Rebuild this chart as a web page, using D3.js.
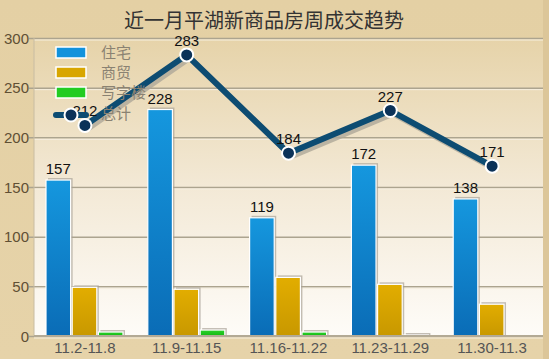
<!DOCTYPE html>
<html><head><meta charset="utf-8">
<script src="https://cdn.jsdelivr.net/npm/d3@7"></script>
<style>html,body{margin:0;padding:0;overflow:hidden;background:#e3cfa3}</style>
</head><body>
<svg id="c" width="549" height="359"></svg>
<script>
const categories = ["11.2-11.8","11.9-11.15","11.16-11.22","11.23-11.29","11.30-11.3"];
const seriesNames = ["住宅","商贸","写字楼"];
const residential = [157,228,119,172,138];
const commercial = [49,47,59,52,32];
const office = [4,6,4,1,0];
const total = [212,283,184,227,171];
const lineName = "总计";
const yTicks = [0,50,100,150,200,250,300];
const title = "近一月平湖新商品房周成交趋势";

const svg = d3.select("#c");
const W = 549, H = 359;
const m = {l:34, r:6, t:38, b:23};
const defs = svg.append("defs");
function grad(id, stops){
  const g = defs.append("linearGradient").attr("id",id).attr("x1",0).attr("y1",0).attr("x2",0).attr("y2",1);
  stops.forEach(s=>g.append("stop").attr("offset",s[0]).attr("stop-color",s[1]));
}
grad("bg",[[0,"#e4d0a4"],[1,"#e6d3a9"]]);
grad("plot",[[0,"#e6d3a9"],[0.5,"#f3e9d6"],[1,"#fefcf8"]]);
grad("gBlue",[[0,"#1597de"],[1,"#0a6cb6"]]);
grad("gGold",[[0,"#e2ad00"],[1,"#c89800"]]);
grad("gGreen",[[0,"#2bd22b"],[1,"#14b814"]]);
const fills = ["url(#gBlue)","url(#gGold)","url(#gGreen)"];
const legendFills = ["#1192dc","#d8a600","#22cc22"];

svg.append("rect").attr("width",W).attr("height",H).attr("fill","url(#bg)");
svg.append("rect").attr("x",W-m.r).attr("y",0).attr("width",m.r).attr("height",H).attr("fill","#dcc699");

const x = d3.scaleBand().domain(categories).range([m.l, W-m.r]);
const y = d3.scaleLinear().domain([0,300]).range([H-m.b, m.t]);
const x1 = d3.scaleBand().domain(seriesNames).range([12, 89]).paddingInner(0.06);

svg.append("rect").attr("x",m.l).attr("y",m.t).attr("width",W-m.r-m.l).attr("height",H-m.b-m.t).attr("fill","url(#plot)");

// grid
const ya = svg.append("g").attr("transform",`translate(${m.l},0)`)
  .call(d3.axisLeft(y).tickValues(yTicks).tickSize(-(W-m.r-m.l)).tickPadding(5));
ya.select(".domain").remove();
ya.selectAll("line").attr("stroke","#aca48f").attr("stroke-width",1.5).attr("x1",-5);
ya.selectAll("text").attr("fill","#5f4f34").attr("font-family","Liberation Sans, Arial").attr("font-size",15).attr("dy","0.34em");
ya.selectAll(".tick").each(function(){
  d3.select(this).append("line").attr("x1",0).attr("x2",W-m.r-m.l).attr("y1",1.5).attr("y2",1.5).attr("stroke","#f6efe0").attr("stroke-width",1);
});
svg.append("line").attr("x1",m.l).attr("x2",m.l).attr("y1",m.t).attr("y2",H-m.b).attr("stroke","#c8bca2").attr("stroke-width",1);

// bars
const data = [residential, commercial, office];
categories.forEach((c,i)=>{
  seriesNames.forEach((s,j)=>{
    const v = data[j][i];
    const bx = x(c)+x1(s), bw = x1.bandwidth();
    const by = y(v), bh = y(0)-y(v);
    if (v>0) {
      svg.append("rect").attr("x",bx+2).attr("y",by-2).attr("width",bw).attr("height",bh+2).attr("fill","#a9a397").attr("opacity",0.7);
    }
    svg.append("rect").attr("x",bx).attr("y",by).attr("width",bw).attr("height",Math.max(bh,0))
      .attr("fill",fills[j]).attr("stroke",v>0?"#fff":"none").attr("stroke-width",1.2);
  });
  svg.append("text").attr("x",x(c)+x1(seriesNames[0])+x1.bandwidth()/2).attr("y",y(residential[i])-6)
    .attr("text-anchor","middle").attr("font-family","Liberation Sans, Arial").attr("font-size",15).attr("fill","#111").text(residential[i]);
});

// x axis
svg.append("line").attr("x1",m.l).attr("x2",W-m.r).attr("y1",y(0)).attr("y2",y(0)).attr("stroke","#b3aa95").attr("stroke-width",2);
categories.forEach(c=>{
  svg.append("text").attr("x",x(c)+x.bandwidth()/2).attr("y",H-6).attr("text-anchor","middle")
    .attr("font-family","Liberation Sans, Arial").attr("font-size",15).attr("fill","#555").text(c);
});

// legend
const lg = svg.append("g");
seriesNames.forEach((s,j)=>{
  const ly = 47 + j*20;
  lg.append("rect").attr("x",56).attr("y",ly).attr("width",30).attr("height",11).attr("fill",legendFills[j]).attr("stroke","#fff").attr("stroke-width",1.5);
  lg.append("text").attr("x",101).attr("y",ly+11).attr("font-family","Noto Sans CJK SC").attr("font-size",15).attr("fill","#8a8272").text(s);
});

// line
const lx = (d,i)=>x(categories[i])+x.bandwidth()/2;
const line = d3.line().x(lx).y(d=>y(d));
svg.append("path").attr("d",line(total)).attr("transform","translate(3,3)").attr("fill","none").attr("stroke","#aea898").attr("stroke-width",6).attr("opacity",0.8);
svg.append("path").attr("d",line(total)).attr("fill","none").attr("stroke","#0d4c72").attr("stroke-width",6).attr("stroke-linejoin","round");
total.forEach((v,i)=>{
  svg.append("text").attr("x",lx(v,i)).attr("y",y(v)-9).attr("text-anchor","middle")
    .attr("font-family","Liberation Sans, Arial").attr("font-size",15).attr("fill","#111").text(v);
});
total.forEach((v,i)=>{
  svg.append("circle").attr("cx",lx(v,i)).attr("cy",y(v)).attr("r",6.5).attr("fill","#0b3258").attr("stroke","#fff").attr("stroke-width",2);
});
// legend line entry (drawn on top as in reference)
lg.raise();
lg.append("line").attr("x1",56).attr("x2",86).attr("y1",115).attr("y2",115).attr("stroke","#0d4c72").attr("stroke-width",6).attr("stroke-linecap","round");
lg.append("circle").attr("cx",71).attr("cy",115).attr("r",6.5).attr("fill","#0b3258").attr("stroke","#fff").attr("stroke-width",2);
lg.append("text").attr("x",101).attr("y",119).attr("font-family","Noto Sans CJK SC").attr("font-size",15).attr("fill","#8a8272").text(lineName);

// title
svg.append("text").attr("x",264).attr("y",28).attr("text-anchor","middle").attr("font-family","Noto Sans CJK SC").attr("font-size",20).attr("fill","#333").text(title);
</script>
</body></html>
